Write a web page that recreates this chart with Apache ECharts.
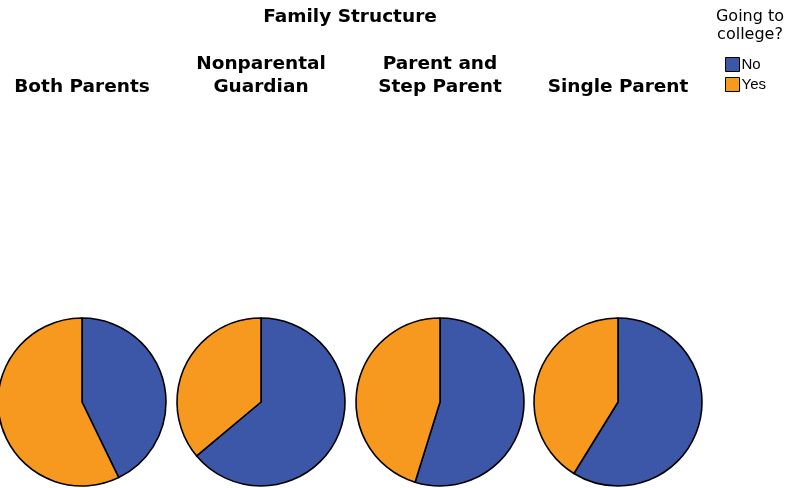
<!DOCTYPE html>
<html><head><meta charset="utf-8">
<script src="https://cdn.jsdelivr.net/npm/echarts@6/dist/echarts.min.js"></script>
<style>html,body{margin:0;padding:0;background:#fff}#c{width:787px;height:488px}</style>
</head><body><div id="c"></div>
<script>
var categories = ['Both Parents', 'Nonparental\nGuardian', 'Parent and\nStep Parent', 'Single Parent'];
var groups = ['No', 'Yes'];
var noShare = [42.8, 63.9, 54.8, 58.8];
var yesShare = [57.2, 36.1, 45.2, 41.2];
var colors = ['#3C57A8', '#F7991F'];

var centersX = [82, 261, 440, 618];
var font = 'DejaVu Sans, sans-serif';
var chart = echarts.init(document.getElementById('c'));
var titles = [{
  text: 'Family Structure', left: 350, top: 8, textAlign: 'center', padding: 0,
  textStyle: {fontFamily: font, fontWeight: 'bold', fontSize: 18.5, color: '#000'}
}, {
  text: 'Going to\ncollege?', left: 750, top: 8, textAlign: 'center', padding: 0,
  textStyle: {fontFamily: font, fontWeight: 'normal', fontSize: 16, lineHeight: 18, color: '#000', align: 'center'}
}];
categories.forEach(function (c, i) {
  var twoLine = c.indexOf('\n') >= 0;
  titles.push({
    text: c, left: centersX[i], top: twoLine ? 53 : 76, textAlign: 'center', padding: 0,
    textStyle: {fontFamily: font, fontWeight: 'bold', fontSize: 18.5, lineHeight: 23, color: '#000', align: 'center'}
  });
});
var series = categories.map(function (c, i) {
  return {
    type: 'pie', center: [centersX[i], 402], radius: 84, startAngle: 90, clockwise: true,
    label: {show: false}, labelLine: {show: false}, silent: true, animation: false,
    itemStyle: {borderColor: '#000', borderWidth: 1.6},
    data: [{name: groups[0], value: noShare[i]}, {name: groups[1], value: yesShare[i]}]
  };
});
chart.setOption({
  color: colors,
  animation: false,
  title: titles,
  legend: {
    data: groups, orient: 'vertical', left: 725, top: 57, padding: 0, itemWidth: 14, itemHeight: 14, itemGap: 5,
    icon: 'rect', selectedMode: false,
    itemStyle: {borderColor: '#000', borderWidth: 1},
    textStyle: {fontFamily: 'Liberation Sans, Arial, sans-serif', fontSize: 15, color: '#000', padding: [0, 0, 0, -3]}
  },
  series: series
});
</script></body></html>
